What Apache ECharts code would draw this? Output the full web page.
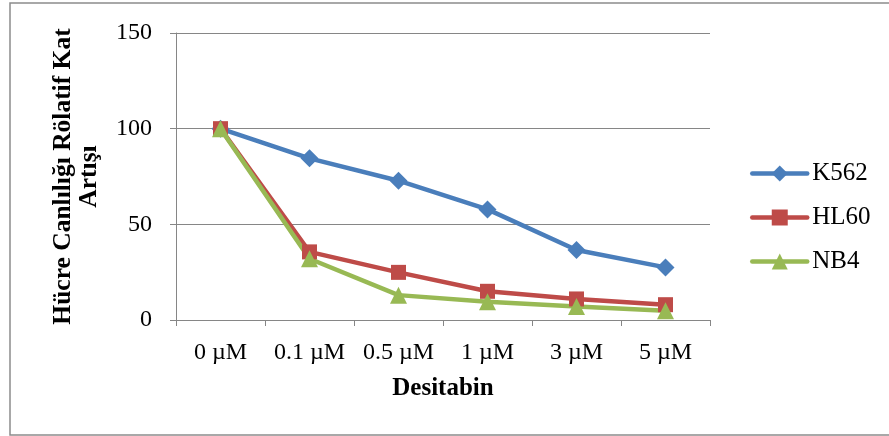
<!DOCTYPE html>
<html><head><meta charset="utf-8">
<script src="https://cdn.jsdelivr.net/npm/echarts@6/dist/echarts.min.js"></script>
<style>html,body{margin:0;padding:0;background:#fff}#c{width:889px;height:436px}</style>
</head><body><div id="c"></div>
<script>
const categories = ['0 µM', '0.1 µM', '0.5 µM', '1 µM', '3 µM', '5 µM'];
const k562 = [100, 84.5, 72.8, 57.8, 36.6, 27.5];
const hl60 = [100, 35.6, 24.9, 15.0, 11.0, 8.0];
const nb4 = [100, 32.0, 13.0, 9.6, 7.0, 4.8];
const yTicks = [0, 50, 100, 150];

const font = '"Liberation Serif", "Times New Roman", serif';
const chart = echarts.init(document.getElementById('c'));
function ser(name, data, color, symbol, size) {
  return {name, type: 'line', data, symbol, symbolSize: size,
    lineStyle: {color, width: 4.5}, itemStyle: {color}, color,
    emphasis: {disabled: true}, animation: false};
}
chart.setOption({
  animation: false,
  graphic: [{type: 'rect', shape: {x: 10, y: 3, width: 900, height: 432},
    style: {fill: 'none', stroke: '#8c8c8c', lineWidth: 1.5}, silent: true}],
  grid: {left: 176, right: 179, top: 33, bottom: 116},
  legend: {orient: 'vertical', left: 745, top: 156, itemWidth: 55, itemHeight: 20, itemGap: 19,
    lineStyle: {width: 4.5, cap: 'round'},
    textStyle: {fontFamily: font, fontSize: 25, color: '#000'},
    data: ['K562', 'HL60', 'NB4']},
  xAxis: {type: 'category', data: categories, boundaryGap: true,
    axisLine: {lineStyle: {color: '#868686', width: 1}},
    axisTick: {show: true, length: 6, lineStyle: {color: '#868686'}},
    axisLabel: {fontFamily: font, fontSize: 24, color: '#000', margin: 21, interval: 0},
    name: 'Desitabin', nameLocation: 'middle', nameGap: 56,
    nameTextStyle: {fontFamily: font, fontSize: 25, fontWeight: 'bold', color: '#000'}},
  yAxis: {type: 'value', min: yTicks[0], max: yTicks[yTicks.length - 1], interval: 50,
    axisLine: {show: true, lineStyle: {color: '#868686', width: 1}},
    axisTick: {show: true, length: 6, lineStyle: {color: '#868686'}},
    splitLine: {lineStyle: {color: '#868686', width: 1}},
    axisLabel: {fontFamily: font, fontSize: 24, color: '#000', margin: 24},
    name: 'Hücre Canlılığı Rölatif Kat\nArtışı', nameLocation: 'middle', nameGap: 74, nameRotate: 90,
    nameTextStyle: {fontFamily: font, fontSize: 25.5, fontWeight: 'bold', color: '#000', lineHeight: 26, align: 'center'}},
  series: [
    ser('K562', k562, '#4A7EBB', 'diamond', 18),
    ser('HL60', hl60, '#BE4B48', 'rect', 15),
    ser('NB4', nb4, '#98B954', 'triangle', 17)
  ]
});
</script></body></html>
